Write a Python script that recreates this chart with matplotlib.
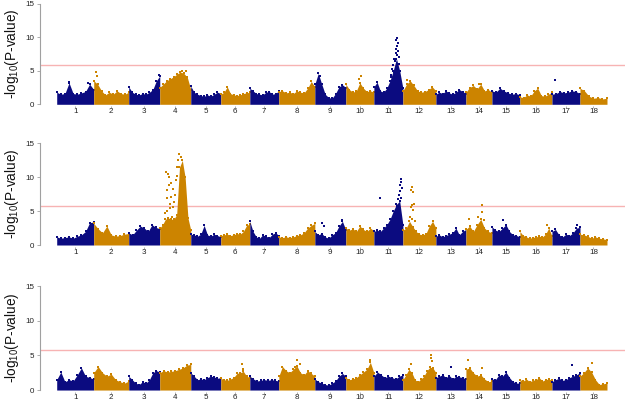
import numpy as np
import matplotlib.pyplot as plt

plt.rcParams['font.family'] = ['Liberation Sans', 'DejaVu Sans']
plt.rcParams['mathtext.default'] = 'regular'

#1、Chromosome layout and values
chrom_labels = [str(i) for i in range(1, 19)]
chrom_lengths = [37, 35, 31, 31, 30, 29, 29, 36, 31, 28, 29, 33, 30, 26, 28, 32, 28, 27]
threshold = 5.8
colors = ["#0B0B80", "#CC8400"]

# top of the dense point cloud, evenly spaced along each chromosome
env_p1 = [
    [1.8, 1.5, 1.6, 3.2, 1.6, 1.5, 1.7, 1.9, 3.0, 2.2],
    [3.5, 3.0, 2.0, 1.4, 1.8, 1.5, 2.0, 1.6, 1.5, 1.8],
    [2.6, 1.8, 1.5, 1.4, 1.6, 1.5, 1.8, 2.2, 3.5, 4.2],
    [2.5, 3.0, 3.5, 3.8, 4.1, 4.5, 4.8, 4.6, 4.0, 2.2],
    [2.7, 1.8, 1.5, 1.3, 1.2, 1.4, 1.2, 1.5, 1.8, 1.6],
    [1.5, 1.8, 2.6, 1.6, 1.4, 1.3, 1.4, 1.6, 1.7, 1.8],
    [2.4, 2.0, 1.6, 1.5, 1.4, 1.8, 1.9, 1.5, 1.6, 2.0],
    [1.9, 2.0, 1.7, 1.8, 1.6, 2.0, 1.8, 1.7, 2.4, 3.4, 2.6],
    [3.0, 4.6, 3.0, 1.5, 1.0, 0.9, 1.6, 2.6, 2.9, 2.5],
    [3.0, 2.2, 1.8, 2.0, 3.2, 2.4, 1.9, 2.0, 1.8],
    [2.6, 3.3, 2.0, 1.8, 2.4, 3.5, 5.0, 6.8, 5.0, 2.4],
    [2.0, 3.0, 3.5, 2.8, 2.0, 1.8, 1.9, 2.2, 2.6, 2.0],
    [1.5, 1.8, 1.6, 2.0, 1.7, 1.5, 1.8, 2.2, 1.9, 1.6],
    [1.8, 2.5, 2.8, 2.3, 3.0, 2.0, 2.2, 1.8],
    [2.0, 1.8, 2.4, 2.0, 1.7, 1.5, 1.6, 1.4],
    [1.1, 1.0, 1.4, 1.2, 2.0, 2.4, 1.3, 1.2, 1.5, 1.8],
    [1.5, 1.6, 1.9, 1.7, 1.8, 2.0, 1.9, 1.6],
    [2.4, 2.0, 1.2, 0.9, 1.0, 0.8, 0.9],
]
env_p2 = [
    [1.2, 1.0, 1.1, 1.2, 1.0, 1.3, 1.5, 2.0, 3.3, 3.4],
    [3.2, 2.4, 1.8, 2.8, 1.5, 1.3, 1.4, 1.6, 1.7],
    [1.8, 1.5, 2.2, 2.8, 2.5, 2.0, 3.0, 2.6, 2.4],
    [2.5, 3.0, 3.8, 4.0, 3.8, 3.8, 4.5, 11.5, 12.5, 10.0, 4.0, 2.2],
    [1.6, 1.5, 1.3, 1.6, 2.9, 1.5, 1.3, 1.6, 1.4, 1.2],
    [1.4, 1.5, 1.6, 1.4, 1.5, 1.7, 1.6, 2.0, 2.9, 3.1],
    [3.5, 2.0, 1.2, 1.0, 1.5, 1.3, 1.1, 1.6, 1.8, 1.4],
    [1.2, 1.1, 1.2, 1.1, 1.2, 1.4, 1.5, 1.8, 2.5, 2.9, 3.2],
    [2.0, 1.5, 1.7, 1.2, 1.0, 1.5, 1.8, 2.8, 3.5, 2.2],
    [2.5, 2.2, 2.4, 2.0, 2.8, 2.3, 2.0, 2.5, 2.1],
    [2.0, 2.2, 2.0, 2.5, 3.0, 3.8, 5.0, 6.0, 6.5, 3.0],
    [2.2, 2.5, 3.5, 2.7, 2.0, 1.6, 1.5, 1.7, 2.8, 3.5, 2.5],
    [1.3, 1.5, 1.2, 1.4, 1.6, 1.8, 2.5, 1.5, 2.0, 2.3],
    [2.3, 2.8, 2.0, 3.0, 3.8, 2.5, 2.0, 1.8],
    [2.7, 2.2, 2.0, 2.5, 3.0, 2.0, 1.5, 1.4, 1.2],
    [2.0, 1.4, 1.2, 1.0, 1.1, 1.2, 1.3, 1.2, 1.6, 2.5, 1.3],
    [2.0, 2.3, 1.5, 1.2, 1.6, 1.4, 1.8, 2.5, 2.6],
    [1.6, 1.5, 1.3, 1.0, 1.2, 1.0, 0.9, 0.8],
]
env_p3 = [
    [1.5, 2.6, 1.2, 1.5, 1.3, 2.2, 3.2, 2.0, 1.8, 1.6],
    [2.5, 3.4, 2.5, 2.0, 2.3, 1.5, 1.2, 1.0, 1.3],
    [2.0, 1.5, 1.0, 0.8, 1.2, 1.0, 1.5, 2.5, 2.8, 2.6],
    [2.5, 2.8, 2.6, 2.7, 2.8, 3.0, 3.2, 3.6, 3.7],
    [2.5, 2.0, 1.5, 1.6, 1.5, 1.8, 2.0, 1.9, 1.7, 1.8],
    [1.7, 1.5, 1.4, 1.6, 1.8, 2.4, 2.5, 2.7, 2.0, 1.8],
    [2.0, 1.6, 1.3, 1.4, 1.5, 1.4, 1.5, 1.4, 1.3],
    [2.0, 3.4, 2.8, 2.5, 3.0, 3.5, 2.5, 2.2, 2.8, 2.4, 2.0],
    [1.6, 1.2, 1.0, 0.8, 0.7, 1.0, 1.3, 2.0, 2.4, 2.0],
    [1.8, 1.5, 1.6, 1.8, 2.2, 2.6, 3.0, 4.0, 2.5],
    [2.0, 2.6, 2.2, 1.8, 2.0, 1.8, 1.6, 2.0, 2.2],
    [1.5, 2.2, 3.0, 2.5, 1.5, 1.2, 1.6, 2.0, 2.8, 3.3, 3.2, 2.5],
    [1.8, 2.0, 2.2, 1.8, 2.1, 1.6, 2.0, 1.9, 1.8, 1.6],
    [3.0, 3.2, 2.5, 2.0, 2.2, 1.6, 1.2, 1.3],
    [1.6, 1.5, 2.2, 2.0, 2.6, 1.8, 1.2, 1.0, 1.0],
    [1.5, 1.3, 1.6, 1.2, 1.4, 1.5, 1.8, 1.3, 1.5, 1.6, 1.4],
    [1.2, 1.5, 1.7, 1.4, 1.5, 1.8, 2.0, 2.2, 2.5],
    [2.0, 2.5, 3.2, 2.6, 1.5, 0.8, 0.9, 1.0],
]

# sparse points above the cloud: (chromosome, position inside chromosome, -log10 p)
spikes_p1 = [
    (1, 12, 3.3), (1, 31, 3.2), (2, 2, 4.8), (2, 3, 4.2), (3, 30, 4.3), (4, 26, 5.0),
    (4, 22, 4.9), (9, 3, 4.7), (9, 5, 4.2), (10, 15, 4.2), (10, 13, 3.8),
    (11, 23.6, 9.9), (11, 22.6, 9.5), (11, 24.3, 9.1), (11, 23.0, 8.7), (11, 21.9, 8.2),
    (11, 24.0, 8.0), (11, 22.3, 7.6), (11, 23.3, 7.3), (11, 20.5, 6.8), (11, 21.5, 6.4),
    (11, 19.5, 5.8), (11, 18.6, 5.2), (11, 20.0, 4.8), (11, 17.6, 4.4), (11, 16.8, 4.0),
    (11, 24.8, 6.0), (11, 25.3, 7.0), (12, 4, 3.6), (14, 13, 3.0), (17, 3, 3.6),
]
spikes_p2 = [
    (4, 6.3, 10.8), (4, 8.6, 10.5), (4, 9.5, 10.0), (4, 7.5, 8.1), (4, 9.0, 8.8),
    (4, 6.8, 6.9), (4, 10.5, 6.1), (4, 5.5, 4.7), (4, 11.5, 7.1), (4, 9.8, 5.4),
    (4, 15.3, 7.4), (4, 16.3, 9.6), (4, 16.9, 11.5), (4, 18.6, 12.5), (4, 19.6, 13.5),
    (4, 20.9, 13.0), (4, 13.6, 8.3), (4, 14.6, 6.4), (4, 12.0, 4.2), (4, 8.0, 3.7),
    (4, 17.5, 10.2), (4, 13.0, 5.6), (4, 7.2, 5.0), (4, 11.0, 9.2),
    (11, 27.5, 9.8), (11, 27.0, 9.3), (11, 26.5, 8.8), (11, 27.8, 8.4), (11, 26.0, 8.0),
    (11, 25.5, 7.4), (11, 27.2, 7.0), (11, 24.5, 6.8), (11, 6.3, 6.9), (11, 23.5, 5.8),
    (11, 22.5, 5.2),
    (12, 8.7, 8.6), (12, 7.7, 8.2), (12, 9.7, 7.8), (12, 10.7, 6.1), (12, 8.7, 5.9),
    (12, 7.7, 5.6), (12, 9.7, 5.2), (12, 6.7, 4.2), (12, 8.7, 3.9), (12, 11.7, 3.5),
    (14, 3.5, 3.9), (14, 12, 4.2), (14, 16, 5.9), (14, 16.5, 4.9), (14, 18, 3.7),
    (15, 11, 3.7), (16, 27, 2.9), (17, 25, 2.9), (9, 7, 3.2), (9, 9, 2.8), (9, 27, 3.7),
]
spikes_p3 = [
    (6, 21, 3.7), (6, 22, 3.0), (8, 18, 4.4), (8, 21, 3.7), (8, 16, 3.3),
    (10, 24, 4.4), (12, 8.3, 3.7), (12, 27.7, 5.1), (12, 27.7, 4.6), (12, 28.7, 4.2),
    (13, 15, 3.4), (14, 1.7, 4.4), (14, 16, 3.2), (17, 20, 3.6), (18, 12, 3.9),
]

#2、Helper: draw one Manhattan panel
starts = np.concatenate([[0], np.cumsum(chrom_lengths)[:-1]])
centers = starts + np.array(chrom_lengths) / 2


def draw_panel(ax, env, spikes):
    for i, vals in enumerate(env):
        col = colors[i % 2]
        xs = np.linspace(starts[i], starts[i] + chrom_lengths[i], len(vals))
        ax.fill_between(xs, 0, vals, color=col, lw=0)
        ax.scatter(xs, vals, s=1.5, color=col, marker='s', lw=0)
    for c, pos, h in spikes:
        ax.scatter(starts[c - 1] + pos, h, s=2, color=colors[(c - 1) % 2], marker='s', lw=0)
    ax.axhline(threshold, color="#F7B3B3", lw=1.0, zorder=0)
    ax.set_xlim(-16.7, sum(chrom_lengths) + 18)
    ax.set_ylim(-0.3, 15.3)
    for s in ["top", "right", "bottom"]:
        ax.spines[s].set_visible(False)
    ax.spines["left"].set_bounds(0, 15)
    ax.spines["left"].set_color("#A0A0A0")
    ax.set_yticks([0, 5, 10, 15])
    ax.set_xticks(centers)
    ax.set_xticklabels(chrom_labels)
    ax.tick_params(axis="both", labelsize=5.8, colors="#A0A0A0", labelcolor="#222222",
                   width=0.6)
    ax.tick_params(axis="x", length=1.2, pad=0.3)
    ax.tick_params(axis="y", length=2.2, pad=2)


#3、Three stacked panels
fig = plt.figure(figsize=(6.25, 4.03), dpi=100)
rects = [[0.064, 0.7362, 0.936, 0.26], [0.064, 0.387, 0.936, 0.262], [0.064, 0.0270, 0.936, 0.268]]
for rect, env, spikes in zip(rects, [env_p1, env_p2, env_p3], [spikes_p1, spikes_p2, spikes_p3]):
    ax = fig.add_axes(rect)
    draw_panel(ax, env, spikes)
    # y label centred at a fixed pixel column
    y0 = ax.transData.transform((0, 0))[1] / fig.bbox.height
    y15 = ax.transData.transform((0, 15))[1] / fig.bbox.height
    fig.text(12 / 625, (y0 + y15) / 2, "-log$_{10}$(P-value)", rotation=90,
             ha="center", va="center", fontsize=9.8, color="#111111")

plt.savefig("out.png", dpi=100)
